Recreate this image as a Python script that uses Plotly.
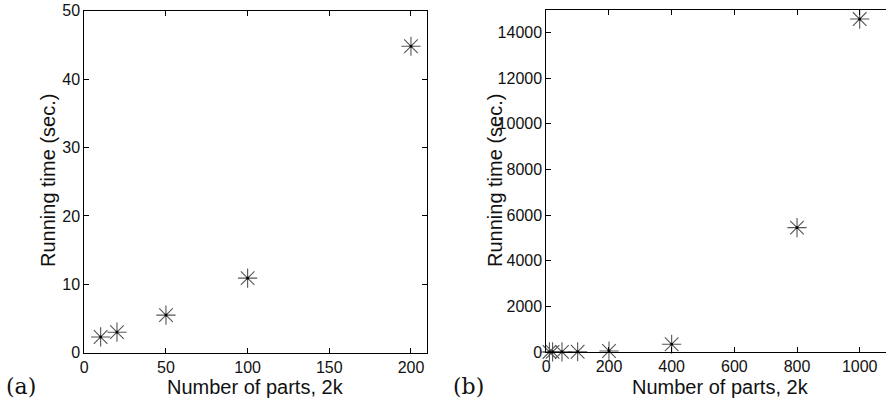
import plotly.graph_objects as go

# Data
parts_a = [10, 20, 50, 100, 200]
time_a = [2.3, 3.0, 5.5, 10.9, 44.8]
parts_b = [10, 20, 50, 100, 200, 400, 800, 1000]
time_b = [2.3, 3.0, 5.5, 10.9, 44.8, 340, 5450, 14590]

xticks_a = [0, 50, 100, 150, 200]
yticks_a = [0, 10, 20, 30, 40, 50]
xticks_b = [0, 200, 400, 600, 800, 1000]
yticks_b = [0, 2000, 4000, 6000, 8000, 10000, 12000, 14000]
ylabels_b = ["0", "2000", "4000", "6000", "8000", "10000", "12000", "14000"]

xtitle = "Number of parts, 2k"
ytitle = "Running time (sec.)"

W, H = 886, 409
FONT = "Liberation Sans, Arial, sans-serif"
SERIF = "DejaVu Serif, Liberation Serif, serif"

def px_x(v):
    return v / W

def px_y(v):
    return (H - v) / H

fig = go.Figure()

def add_series(x, y, xa, ya):
    fig.add_trace(go.Scatter(x=x, y=y, mode="markers", xaxis=xa, yaxis=ya,
                             marker=dict(symbol="asterisk-open", size=16, color="#555555",
                                         line=dict(color="#555555", width=1.1)),
                             showlegend=False, cliponaxis=False, hoverinfo="skip"))
    fig.add_trace(go.Scatter(x=x, y=y, mode="markers", xaxis=xa, yaxis=ya,
                             marker=dict(symbol="square", size=2.5, color="#000000"),
                             showlegend=False, cliponaxis=False, hoverinfo="skip"))

add_series(parts_a, time_a, "x", "y")
add_series(parts_b, time_b, "x2", "y2")

axis_common = dict(showgrid=False, zeroline=False, showline=True, linecolor="#000000",
                   linewidth=1, ticks="inside", ticklen=5, tickcolor="#000000",
                   automargin=False, ticklabeloverflow="allow",
                   tickfont=dict(family=FONT, size=16, color="#111111"))

title_font = dict(family=FONT, size=20, color="#111111")
label_font = dict(family=SERIF, size=22, color="#111111")

def ann(text, x, y, font, angle=0, xanchor="center"):
    return dict(text=text, x=px_x(x), y=px_y(y), xref="paper", yref="paper",
                showarrow=False, xanchor=xanchor, yanchor="middle",
                textangle=angle, font=font)

fig.update_layout(
    width=W, height=H, margin=dict(l=0, r=0, t=0, b=0, autoexpand=False),
    paper_bgcolor="white", plot_bgcolor="white",
    xaxis=dict(domain=[px_x(84.3), px_x(427.3)], range=[0, 210], tickvals=xticks_a,
               mirror="ticks", anchor="y", **axis_common),
    yaxis=dict(domain=[px_y(352.7), px_y(10.7)], range=[0, 50], tickvals=yticks_a,
               mirror="ticks", anchor="x", **axis_common),
    xaxis2=dict(domain=[px_x(546.3), 1.0], range=[0, 1084], tickvals=xticks_b,
                mirror="ticks", anchor="y2", **axis_common),
    yaxis2=dict(domain=[px_y(352), px_y(9.7)], range=[0, 15000], tickvals=yticks_b,
                ticktext=ylabels_b, mirror=False, anchor="x2", **axis_common),
    annotations=[
        ann(xtitle, 256, 387, title_font),
        ann(xtitle, 720, 387, title_font),
        ann(ytitle, 48, 181, title_font, angle=-90),
        ann(ytitle, 495, 181, title_font, angle=-90),
        ann("(a)", 4, 386, label_font, xanchor="left"),
        ann("(b)", 451, 386, label_font, xanchor="left"),
    ],
)

fig.write_html("out.html", config={"displayModeBar": False, "staticPlot": True},
               post_script="document.body.style.margin='0';document.body.style.overflow='hidden';")
